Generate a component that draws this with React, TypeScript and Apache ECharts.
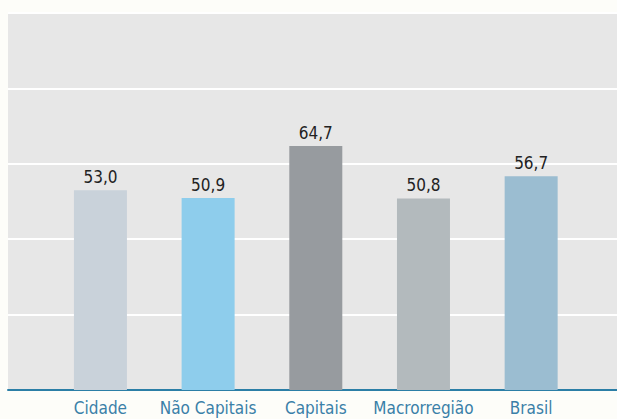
import React, { useEffect, useRef } from "react";
import * as echarts from "echarts";

const categories = ["Cidade", "Não Capitais", "Capitais", "Macrorregião", "Brasil"];
const values = [53.0, 50.9, 64.7, 50.8, 56.7];
const barColors = ["#c9d2da", "#8ecdec", "#979b9f", "#b3babd", "#9bbdd1"];
const yMin = 0;
const yMax = 100;
const yInterval = 20;

const FONT = "'Liberation Sans Narrow', 'DejaVu Sans Condensed', Roboto, sans-serif";

export default function App() {
  const ref = useRef<HTMLDivElement>(null);
  useEffect(() => {
    if (!ref.current) return;
    const chart = echarts.init(ref.current, null, { renderer: "svg" });
    chart.setOption({
      animation: false,
      backgroundColor: "#fdfdf9",
      grid: [
        { left: 8, right: 0, top: 13, bottom: 29, show: true, backgroundColor: "#e7e7e7", borderWidth: 0 },
        { left: 46.6, right: 32, top: 13, bottom: 29 },
      ],
      xAxis: [
        {
          gridIndex: 0,
          type: "value",
          min: 0,
          max: 1,
          axisLine: { show: true, onZero: false, lineStyle: { color: "#2b7ea6", width: 2 } },
          axisTick: { show: false },
          axisLabel: { show: false },
          splitLine: { show: false },
        },
        {
          gridIndex: 1,
          type: "category",
          data: categories,
          axisLine: { show: false },
          axisTick: { show: false },
          axisLabel: { color: "#3a80a8", fontSize: 17, fontFamily: FONT, margin: 9, interval: 0 },
        },
      ],
      yAxis: [
        {
          gridIndex: 0,
          type: "value",
          min: yMin,
          max: yMax,
          interval: yInterval,
          axisLine: { show: false },
          axisTick: { show: false },
          axisLabel: { show: false },
          splitLine: { show: true, lineStyle: { color: "#ffffff", width: 2 } },
        },
        {
          gridIndex: 1,
          type: "value",
          min: yMin,
          max: yMax,
          interval: yInterval,
          show: false,
        },
      ],
      series: [
        {
          type: "bar",
          xAxisIndex: 1,
          yAxisIndex: 1,
          barWidth: 53,
          data: values.map((v, i) => ({ value: v, itemStyle: { color: barColors[i] } })),
          label: {
            show: true,
            position: "top",
            distance: 5,
            color: "#222222",
            fontSize: 17,
            fontFamily: FONT,
            formatter: (p: any) => p.value.toFixed(1).replace(".", ","),
          },
        },
      ],
    });
    return () => chart.dispose();
  }, []);
  return <div ref={ref} style={{ position: "fixed", left: 0, top: 0, width: 617, height: 419 }} />;
}
